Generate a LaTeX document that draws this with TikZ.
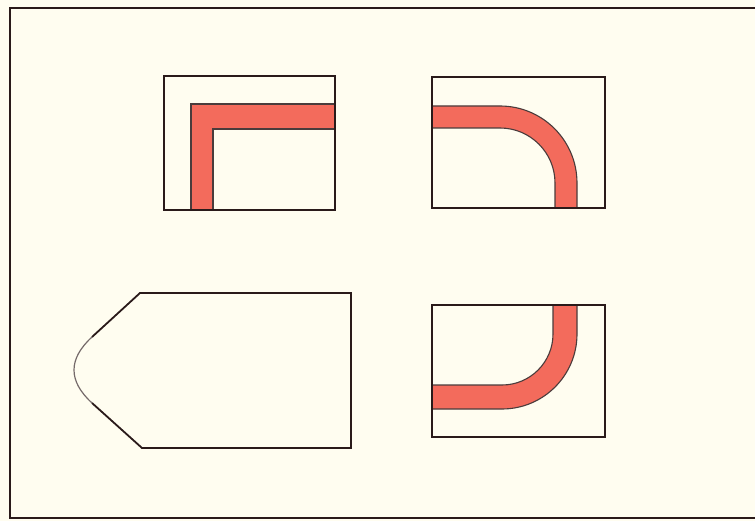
\documentclass[tikz,border=0pt]{standalone}
\definecolor{paper}{HTML}{FFFDF0}
\definecolor{band}{HTML}{F36B5C}
\definecolor{ink}{HTML}{2A1A1A}
\tikzset{
  outline/.style={draw=ink, line width=1.8pt, line join=miter},
  bandshape/.style={fill=band, draw=ink!85, line width=1.1pt},
  softline/.style={draw=ink!65, line width=1.2pt},
}
\begin{document}
\begin{tikzpicture}[x=1pt,y=-1pt]
  \useasboundingbox (0,0) rectangle (755,521);
  \fill[paper] (0,0) rectangle (755,521);
  % frame
  \draw[outline] (755,8) -- (10,8) -- (10,518) -- (755,518);
  % box 1: square corner band
  \path[bandshape] (191,210) -- (191,104) -- (335,104) -- (335,129) -- (213,129) -- (213,210) -- cycle;
  \draw[outline] (164,76) rectangle (335,210);
  % box 2: rounded band top-right
  \path[bandshape] (432,106) -- (500,106) arc[start angle=270, end angle=360, radius=77]
    -- (577,208) -- (555,208) -- (555,183) arc[start angle=360, end angle=270, radius=55]
    -- (432,128) -- cycle;
  \draw[outline] (432,77) rectangle (605,208);
  % box 3: rounded band bottom-right
  \path[bandshape] (577,305) -- (577,334) arc[start angle=0, end angle=90, radius=75]
    -- (432,409) -- (432,385) -- (502,385) arc[start angle=90, end angle=0, radius=51]
    -- (553,305) -- cycle;
  \draw[outline] (432,305) rectangle (605,437);
  % pointed shape
  \draw[outline] (92,337) -- (140,293) -- (351,293) -- (351,448) -- (142,448) -- (92,403);
  \draw[softline] (92,337) .. controls (68,359) and (68,381) .. (92,403);
\end{tikzpicture}
\end{document}
